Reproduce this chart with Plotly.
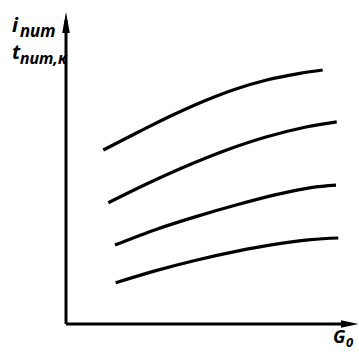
import plotly.graph_objects as go

# Schematic curves: G0 (horizontal) vs i_пит / t_пит,к (vertical), arbitrary units
g0_1 = [37.3, 74, 107.3, 140.7, 170, 200.7, 234, 256.7]
val_1 = [174, 192.8, 209.2, 224, 235, 244, 250.7, 254]
g0_2 = [42.3, 80, 120, 160, 200, 240, 270.7]
val_2 = [121.3, 139.8, 157.8, 173.8, 187, 197, 202.2]
g0_3 = [49, 90, 130, 170, 210, 245, 270]
val_3 = [79, 94.6, 107.4, 119, 129.4, 136.4, 138.9]
g0_4 = [49.7, 90, 130, 170, 210, 245, 272.3]
val_4 = [41.3, 53.4, 63.8, 72.6, 79.8, 84.4, 86.0]

series = [(g0_1, val_1), (g0_2, val_2), (g0_3, val_3), (g0_4, val_4)]

W, H = 359, 352
ML, MR, MT, MB = 66, 1, 13, 28
PW, PH = W - ML - MR, H - MT - MB


def px(x):
    return (x - ML) / PW


def py(y):
    return (H - MB - y) / PH


fig = go.Figure()
for xs, ys in series:
    fig.add_trace(go.Scatter(x=xs, y=ys, mode="lines",
                             line=dict(color="black", width=3.2, shape="spline", smoothing=1.0),
                             showlegend=False, hoverinfo="skip"))

# axes with narrow arrowheads
axis_line = dict(color="black", width=3)
fig.add_shape(type="line", xref="paper", yref="paper", x0=0, y0=0, x1=0, y1=py(20), line=axis_line)
fig.add_shape(type="line", xref="paper", yref="paper", x0=0, y0=0, x1=px(350), y1=0, line=axis_line)
fig.add_shape(type="path", xref="paper", yref="paper", fillcolor="black", line=dict(width=0),
              path=f"M {px(66)} {py(12)} L {px(69.8)} {py(33)} L {px(62.2)} {py(33)} Z")
fig.add_shape(type="path", xref="paper", yref="paper", fillcolor="black", line=dict(width=0),
              path=f"M {px(358.5)} {py(324)} L {px(341)} {py(320.3)} L {px(341)} {py(327.7)} Z")

fam = "Noto Sans"


def label(text, x, y, size):
    fig.add_annotation(x=px(x), y=py(y), xref="paper", yref="paper", xanchor="left", yanchor="middle",
                       text=f"<b><i>{text}</i></b>", showarrow=False, borderpad=0,
                       font=dict(family=fam, size=size, color="black"))


label("i", 11, 25, 20)
label("пит", 19, 31, 17)
label("t", 11, 51, 20)
label("пит,к", 19, 58, 16)
label("G", 332, 336, 18)
label("0", 345, 342, 13)

fig.update_xaxes(range=[0, PW], visible=False, fixedrange=True)
fig.update_yaxes(range=[0, PH], visible=False, fixedrange=True)
fig.update_layout(width=W, height=H, margin=dict(l=ML, r=MR, t=MT, b=MB),
                  plot_bgcolor="white", paper_bgcolor="white")

fig.write_html("out.html", config={"displayModeBar": False})
